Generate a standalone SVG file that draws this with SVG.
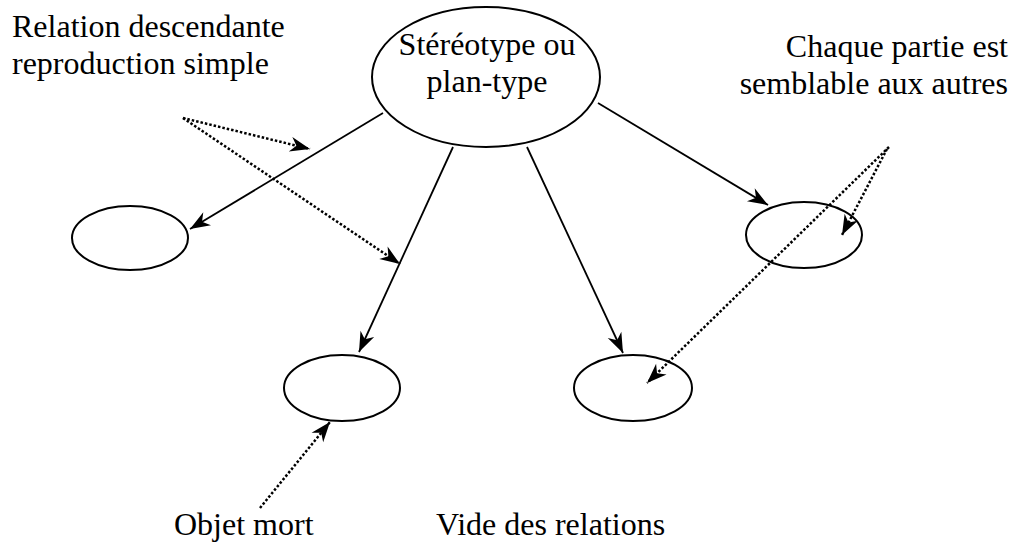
<svg xmlns="http://www.w3.org/2000/svg" width="1016" height="544" viewBox="0 0 1016 544">
<style>
.node{fill:#fff;stroke:#000;stroke-width:2}
.t{font-family:"Liberation Serif","Times New Roman",serif;font-size:32px;fill:#000}
.solid{stroke:#000;stroke-width:1.8;fill:none;marker-end:url(#arr)}
.dot{stroke:#000;stroke-width:2.5;stroke-dasharray:2.5 2;fill:none;marker-end:url(#arr)}
</style>
<defs>
<marker id="arr" markerUnits="userSpaceOnUse" markerWidth="22" markerHeight="16" refX="20" refY="7.5" orient="auto" overflow="visible">
<path d="M0,0 L20,7.5 L0,15 L6,7.5 Z" fill="#000"/>
</marker>
</defs>
<g id="stereotype">
<ellipse class="node" cx="486" cy="77" rx="114" ry="70"/>
<text class="t" x="487" y="55" text-anchor="middle">Stéréotype ou</text>
<text class="t" x="487" y="92" text-anchor="middle">plan-type</text>
</g>
<g id="node-left"><ellipse class="node" cx="130" cy="238" rx="58" ry="32"/></g>
<g id="node-right"><ellipse class="node" cx="804" cy="235" rx="58" ry="33"/></g>
<g id="node-objet-mort"><ellipse class="node" cx="342" cy="388" rx="58" ry="33"/></g>
<g id="node-vide"><ellipse class="node" cx="633" cy="388" rx="59" ry="33"/></g>
<g id="label-relation">
<text class="t" x="12" y="37">Relation descendante</text>
<text class="t" x="12" y="74">reproduction simple</text>
</g>
<g id="label-chaque">
<text class="t" x="1008" y="57" text-anchor="end">Chaque partie est</text>
<text class="t" x="1008" y="94" text-anchor="end">semblable aux autres</text>
</g>
<g id="label-objet"><text class="t" x="174" y="535">Objet mort</text></g>
<g id="label-vide"><text class="t" x="436" y="535">Vide des relations</text></g>
<g id="connectors">
<line class="solid" x1="383" y1="113" x2="190" y2="229"/>
<line class="solid" x1="453" y1="147" x2="359" y2="352"/>
<line class="solid" x1="527" y1="147" x2="623" y2="353"/>
<line class="solid" x1="598" y1="103" x2="768" y2="205"/>
<line class="dot" x1="183" y1="118" x2="310" y2="149"/>
<line class="dot" x1="183" y1="118" x2="400" y2="264"/>
<line class="dot" x1="887" y1="149" x2="842" y2="235"/>
<line class="dot" x1="889" y1="147" x2="647" y2="383"/>
<line class="dot" x1="260" y1="508" x2="330" y2="422"/>
</g>
</svg>
